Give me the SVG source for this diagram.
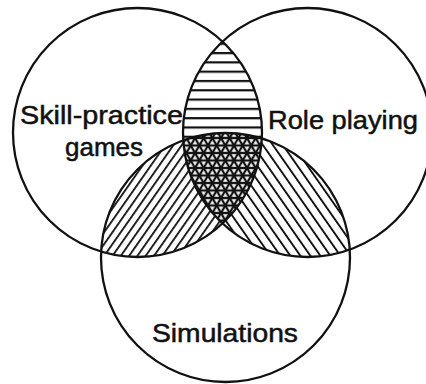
<svg xmlns="http://www.w3.org/2000/svg" width="426" height="384" viewBox="0 0 426 384">
  <style>
    .ring { fill: none; stroke: #111; stroke-width: 2.3; }
    .label { font-family: "Liberation Sans", Arial, Helvetica, sans-serif; font-size: 25px; fill: #111; stroke: #111; stroke-width: 0.5; }
  </style>
  <defs>
    <clipPath id="clipL"><circle cx="137.5" cy="132.5" r="124.5"/></clipPath>
    <clipPath id="clipR"><circle cx="307.5" cy="132.5" r="124.5"/></clipPath>
    <clipPath id="clipB"><circle cx="225.5" cy="257.5" r="124.5"/></clipPath>

    <!-- horizontal ruling -->
    <pattern id="hz" patternUnits="userSpaceOnUse" x="0" y="52" width="20" height="9.3">
      <rect x="0" y="0" width="20" height="2.2" fill="#111"/>
    </pattern>
    <!-- forward diagonal "/" -->
    <pattern id="fwd" patternUnits="userSpaceOnUse" width="6.8" height="20" patternTransform="rotate(35)">
      <rect x="0" y="0" width="1.8" height="20" fill="#111"/>
    </pattern>
    <!-- backward diagonal "\" -->
    <pattern id="bwd" patternUnits="userSpaceOnUse" width="8.2" height="20" patternTransform="rotate(-35)">
      <rect x="0" y="0" width="1.9" height="20" fill="#111"/>
    </pattern>
    <!-- triangular lattice: three line families through a common origin -->
    <pattern id="tri0" patternUnits="userSpaceOnUse" width="20" height="7.5" patternTransform="translate(221,138)">
      <rect x="0" y="0" width="20" height="1.15" fill="#111"/>
      <rect x="0" y="6.35" width="20" height="1.15" fill="#111"/>
    </pattern>
    <pattern id="tri60" href="#tri0" patternTransform="translate(221,138) rotate(60)"/>
    <pattern id="tri120" href="#tri0" patternTransform="translate(221,138) rotate(120)"/>
  </defs>

  <rect width="426" height="384" fill="#fff"/>

  <!-- shaded overlaps -->
  <g id="overlaps">
    <!-- Skill-practice games ∩ Role playing -->
    <g clip-path="url(#clipL)">
      <rect clip-path="url(#clipR)" x="0" y="0" width="426" height="384" fill="url(#hz)"/>
    </g>
    <!-- Skill-practice games ∩ Simulations -->
    <g clip-path="url(#clipL)">
      <g clip-path="url(#clipB)">
        <rect x="0" y="0" width="426" height="384" fill="#fff"/>
        <rect x="0" y="0" width="426" height="384" fill="url(#fwd)"/>
      </g>
    </g>
    <!-- Role playing ∩ Simulations -->
    <g clip-path="url(#clipR)">
      <g clip-path="url(#clipB)">
        <rect x="0" y="0" width="426" height="384" fill="#fff"/>
        <rect x="0" y="0" width="426" height="384" fill="url(#bwd)"/>
      </g>
    </g>
    <!-- all three -->
    <g clip-path="url(#clipL)">
      <g clip-path="url(#clipR)">
        <g clip-path="url(#clipB)">
          <rect x="0" y="0" width="426" height="384" fill="#fff"/>
          <rect x="0" y="0" width="426" height="384" fill="url(#tri0)"/>
          <rect x="0" y="0" width="426" height="384" fill="url(#tri60)"/>
          <rect x="0" y="0" width="426" height="384" fill="url(#tri120)"/>
        </g>
      </g>
    </g>
  </g>

  <g id="skill-practice-games">
    <circle class="ring" cx="137.5" cy="132.5" r="124.5"/>
    <text class="label" x="20" y="124" textLength="163" lengthAdjust="spacingAndGlyphs">Skill-practice</text>
    <text class="label" x="65" y="156" textLength="78" lengthAdjust="spacingAndGlyphs">games</text>
  </g>

  <g id="role-playing">
    <circle class="ring" cx="307.5" cy="132.5" r="124.5"/>
    <text class="label" x="268" y="129" textLength="150" lengthAdjust="spacingAndGlyphs">Role playing</text>
  </g>

  <g id="simulations">
    <circle class="ring" cx="225.5" cy="257.5" r="124.5"/>
    <text class="label" x="152" y="342" textLength="146" lengthAdjust="spacingAndGlyphs">Simulations</text>
  </g>
</svg>
